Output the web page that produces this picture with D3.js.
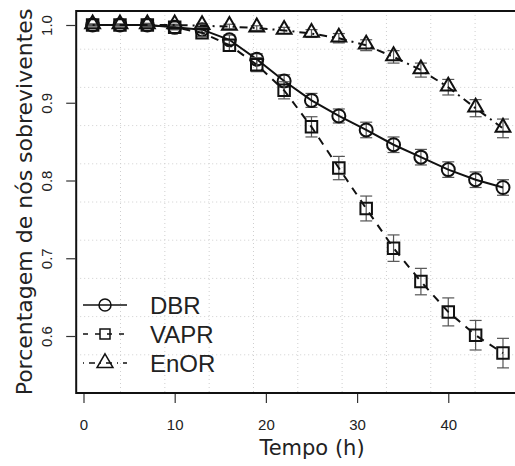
<!DOCTYPE html>
<html>
<head>
<meta charset="utf-8">
<script src="https://cdn.jsdelivr.net/npm/d3@7"></script>
<style>
  body { margin: 0; background: #fff; }
  svg { display: block; }
  .tick-label { font-family: "Liberation Sans", Arial, sans-serif; font-size: 15px; fill: #222; }
  .axis-title { font-family: "DejaVu Sans", sans-serif; font-size: 21px; fill: #222; }
  .legend-label { font-family: "Liberation Sans", Arial, sans-serif; font-size: 24px; fill: #222; }
</style>
</head>
<body>
<div id="chart"></div>
<script>
// time points (h)
const tempo = [1, 4, 7, 10, 13, 16, 19, 22, 25, 28, 31, 34, 37, 40, 43, 46];

// surviving-node fraction and error-bar half widths
const dbr = [1.0, 1.0, 1.0, 0.997, 0.994, 0.981, 0.956, 0.928, 0.903, 0.883, 0.865, 0.846, 0.830, 0.814, 0.801, 0.791];
const dbrErr = [0.001, 0.001, 0.002, 0.003, 0.004, 0.006, 0.007, 0.008, 0.009, 0.009, 0.010, 0.010, 0.010, 0.010, 0.010, 0.010];
const vapr = [1.0, 1.0, 1.0, 0.997, 0.990, 0.974, 0.949, 0.916, 0.869, 0.816, 0.764, 0.713, 0.670, 0.631, 0.601, 0.578];
const vaprErr = [0.001, 0.001, 0.002, 0.003, 0.005, 0.007, 0.009, 0.011, 0.013, 0.015, 0.016, 0.017, 0.017, 0.018, 0.019, 0.019];
const enor = [1.0, 1.0, 1.0, 1.0, 0.999, 0.998, 0.996, 0.993, 0.989, 0.983, 0.974, 0.959, 0.942, 0.920, 0.893, 0.867];
const enorErr = [0.001, 0.001, 0.001, 0.001, 0.002, 0.003, 0.003, 0.004, 0.005, 0.006, 0.007, 0.008, 0.009, 0.010, 0.011, 0.012];

const seriesNames = ['DBR', 'VAPR', 'EnOR'];
const xTicks = [0, 10, 20, 30, 40];
const yTicks = [0.6, 0.7, 0.8, 0.9, 1.0];

const width = 515, height = 466;
const plot = { left: 76.2, right: 519.4, top: 11, bottom: 393 };

const svg = d3.select('#chart')
  .append('svg')
  .attr('width', width)
  .attr('height', height);

const x = d3.scaleLinear([-0.8, 47.8], [plot.left, plot.right]);
const y = d3.scaleLinear([0.5267, 1.018], [plot.bottom, plot.top]);

// grid, 10 x 10 cells across the plot region
const gridG = svg.append('g')
  .attr('stroke', '#cfcfcf')
  .attr('stroke-width', 1)
  .attr('stroke-dasharray', '1,3');
d3.range(1, 10).forEach(k => {
  const gx = plot.left + (plot.right - plot.left) * k / 10;
  const gy = plot.top + (plot.bottom - plot.top) * k / 10;
  gridG.append('line').attr('x1', gx).attr('x2', gx).attr('y1', plot.top).attr('y2', plot.bottom);
  gridG.append('line').attr('x1', plot.left).attr('x2', plot.right).attr('y1', gy).attr('y2', gy);
});

// axes
const xAxis = svg.append('g')
  .attr('transform', `translate(0,${plot.bottom + 1})`)
  .call(d3.axisBottom(x).tickValues(xTicks).tickSize(9).tickFormat(d3.format('d')));
xAxis.select('.domain').remove();
xAxis.selectAll('line').attr('stroke', '#333').attr('stroke-width', 1.2);
xAxis.selectAll('text')
  .attr('class', 'tick-label')
  .attr('y', 36)
  .attr('dy', null)
  .attr('fill', null);

const yAxis = svg.append('g')
  .attr('transform', `translate(${plot.left - 1},0)`)
  .call(d3.axisLeft(y).tickValues(yTicks).tickSize(9).tickFormat(d3.format('.1f')));
yAxis.select('.domain').remove();
yAxis.selectAll('line').attr('stroke', '#333').attr('stroke-width', 1.2);
yAxis.selectAll('text')
  .attr('class', 'tick-label')
  .attr('x', null)
  .attr('dy', null)
  .attr('fill', null)
  .attr('text-anchor', 'middle')
  .attr('transform', 'translate(-23,0) rotate(-90)');

svg.append('text')
  .attr('class', 'axis-title')
  .attr('text-anchor', 'middle')
  .attr('x', 312)
  .attr('y', 455)
  .text('Tempo (h)');

svg.append('text')
  .attr('class', 'axis-title')
  .style('font-size', '22px')
  .attr('text-anchor', 'middle')
  .attr('transform', `translate(32,${(plot.top + plot.bottom) / 2}) rotate(-90)`)
  .text('Porcentagem de nós sobreviventes');

// series
const symCircle = d3.symbol().type(d3.symbolCircle).size(Math.PI * 6.5 * 6.5);
const symSquare = d3.symbol().type(d3.symbolSquare).size(11.5 * 11.5);
const symTriangle = d3.symbol().type(d3.symbolTriangle).size(95);

const series = [
  { name: seriesNames[0], values: dbr, err: dbrErr, dash: null, sym: symCircle, dy: 0 },
  { name: seriesNames[1], values: vapr, err: vaprErr, dash: '8,7', sym: symSquare, dy: 0 },
  { name: seriesNames[2], values: enor, err: enorErr, dash: '2,5,8,5', sym: symTriangle, dy: -1 }
];

const line = d3.line()
  .x(d => x(d[0]))
  .y(d => y(d[1]));

series.forEach(s => {
  const pts = tempo.map((t, i) => [t, s.values[i], s.err[i]]);
  const g = svg.append('g');

  // error bars
  const eb = g.append('g').attr('stroke', '#555').attr('stroke-width', 1.2).attr('fill', 'none');
  pts.forEach(p => {
    const px = x(p[0]);
    const y0 = y(p[1] - p[2]), y1 = y(p[1] + p[2]);
    eb.append('line').attr('x1', px).attr('x2', px).attr('y1', y0).attr('y2', y1);
    eb.append('line').attr('x1', px - 6).attr('x2', px + 6).attr('y1', y0).attr('y2', y0);
    eb.append('line').attr('x1', px - 6).attr('x2', px + 6).attr('y1', y1).attr('y2', y1);
  });

  g.append('path')
    .datum(pts)
    .attr('fill', 'none')
    .attr('stroke', '#111')
    .attr('stroke-width', 2)
    .attr('stroke-dasharray', s.dash)
    .attr('d', line);

  g.selectAll('path.pt')
    .data(pts)
    .join('path')
    .attr('class', 'pt')
    .attr('d', s.sym)
    .attr('transform', d => `translate(${x(d[0])},${y(d[1]) + s.dy})`)
    .attr('fill', 'none')
    .attr('stroke', '#111')
    .attr('stroke-width', 2);
});

// plot box
svg.append('rect')
  .attr('x', plot.left)
  .attr('y', plot.top)
  .attr('width', plot.right - plot.left)
  .attr('height', plot.bottom - plot.top)
  .attr('fill', 'none')
  .attr('stroke', '#111')
  .attr('stroke-width', 2);

// legend
const legend = svg.append('g');
series.forEach((s, i) => {
  const ly = 305 + i * 29;
  legend.append('line')
    .attr('x1', 83).attr('x2', 127)
    .attr('y1', ly).attr('y2', ly)
    .attr('stroke', '#111')
    .attr('stroke-width', 1.5)
    .attr('stroke-dasharray', s.dash ? (i === 1 ? '5,7' : '1,5,6,5') : null);
  legend.append('path')
    .attr('d', i === 0 ? d3.symbol().type(d3.symbolCircle).size(Math.PI * 36)()
      : i === 1 ? d3.symbol().type(d3.symbolSquare).size(100)()
      : d3.symbol().type(d3.symbolTriangle).size(110)())
    .attr('transform', `translate(105,${ly})`)
    .attr('fill', 'none')
    .attr('stroke', '#111')
    .attr('stroke-width', 1.5);
  legend.append('text')
    .attr('class', 'legend-label')
    .attr('x', 150)
    .attr('y', ly + 8.6)
    .text(s.name);
});
</script>
</body>
</html>
